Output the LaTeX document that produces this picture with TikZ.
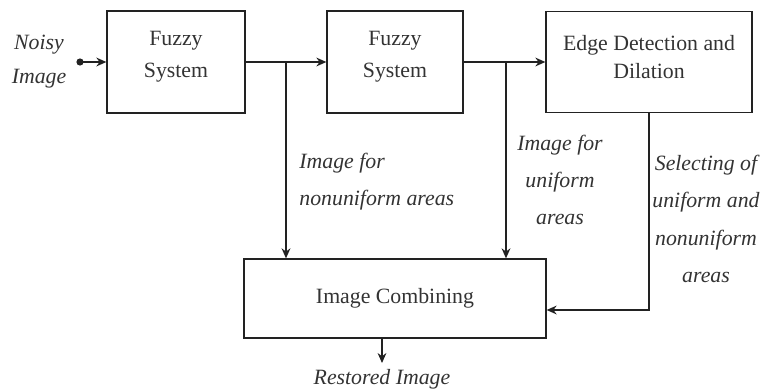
\documentclass[tikz,border=0pt]{standalone}
\usepackage{fontspec}
\setmainfont{Liberation Serif}
\usetikzlibrary{arrows.meta}
\definecolor{ink}{HTML}{222222}
\definecolor{txt}{HTML}{333333}
\begin{document}
\begin{tikzpicture}[x=0.5pt,y=-0.5pt,
  every node/.style={text=txt},
  blockbox/.style={draw=ink, line width=0.65pt, inner sep=0pt, font=\fontsize{10.9}{14}\selectfont},
  boxtxt/.style={align=center, inner sep=0pt},
  lbl/.style={inner sep=0pt, font=\fontsize{10.9}{18.7}\selectfont\itshape},
  arr/.style={draw=ink, line width=0.65pt, -{Stealth[length=5pt,width=4.4pt]}},
  wire/.style={draw=ink, line width=0.65pt}]
\useasboundingbox (0,0) rectangle (765,390);
% blocks
\node[blockbox, minimum width=69pt, minimum height=51pt] (f1) at (176,62) {};
\node[blockbox, minimum width=68pt, minimum height=51pt] (f2) at (395,62) {};
\node[blockbox, minimum width=103pt, minimum height=50.5pt] (ed) at (649,62) {};
\node[blockbox, minimum width=151pt, minimum height=39.5pt] (comb) at (395,298.5) {Image Combining};
% block texts
\node[boxtxt, font=\fontsize{10.9}{16}\selectfont] (t1) at (176,57) {Fuzzy\\System};
\node[boxtxt, font=\fontsize{10.9}{16}\selectfont] (t2) at (395,57) {Fuzzy\\System};
\node[boxtxt, font=\fontsize{10.9}{14}\selectfont] (t3) at (649,57) {Edge Detection and\\Dilation};
% input
\coordinate (in) at (80,62);
\node[lbl, align=center, font=\fontsize{10.9}{17}\selectfont\itshape] (noisy) at (39,62) {Noisy\\Image};
\fill[ink] (in) circle (1.8pt);
\draw[arr] (in) -- (f1.west);
% main chain
\draw[arr] (f1.east) -- (f2.west);
\draw[arr] (f2.east) -- (ed.west);
% branches
\coordinate (b1) at (286,62);
\coordinate (b2) at (506,62);
\draw[arr] (b1) -- (b1 |- comb.north);
\draw[arr] (b2) -- (b2 |- comb.north);
\coordinate (y310) at (0,310);
\draw[arr] (ed.south) |- (comb.east |- y310);
% output
\coordinate (oc) at (382,363);
\draw[arr] (comb.south -| oc) -- (oc);
\node[lbl] (out) at (382,379) {Restored Image};
% labels
\node[lbl, align=left, anchor=west] (l1) at (299,181.5) {Image for\\ nonuniform areas};
\node[lbl, align=center] (l2) at (560,180) {Image for\\uniform\\areas};
\node[lbl, align=center] (l3) at (706,219) {Selecting of\\uniform and\\nonuniform\\areas};
\end{tikzpicture}
\end{document}
